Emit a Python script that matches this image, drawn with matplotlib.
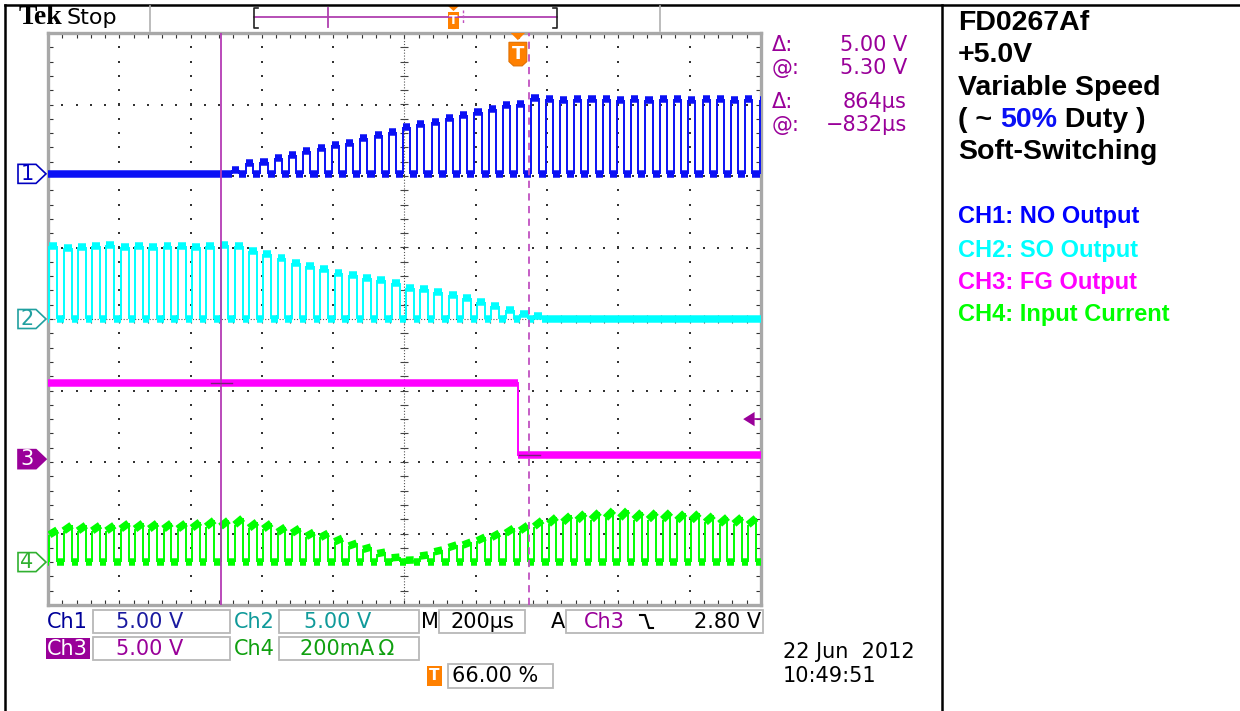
import numpy as np
import matplotlib.pyplot as plt
from matplotlib.patches import Polygon, Rectangle
from matplotlib.collections import LineCollection
from matplotlib.transforms import blended_transform_factory

W, H = 1240, 711

# scope settings (time axis in microseconds, vertical axis in divisions)
us_per_div = 200
volts_per_div = 5.0
ma_per_div = 200.0
period_us = 40
trigger_us = 318
trigger_level_v = 2.80
cursor1_us = -514
cursor2_us = 350
cursor_levels_v = [5.30, 0.30]

ch1_offset = 2.03
ch2_offset = 0.0
ch3_offset = -1.96
ch4_offset = -3.40

ch1_first_rise = -964
ch2_first_rise = -996
ch4_first_rise = -996

# pulse tops, one per switching period
ch1_high_v = [0, 0, 0, 0, 0, 0, 0, 0, 0, 0, 0, 0, 0.3, 0.75, 0.85, 1.1, 1.35, 1.6,
              1.8, 2.0, 2.15, 2.5, 2.75, 2.95, 3.3, 3.5, 3.65, 3.9, 4.15, 4.35,
              4.55, 4.8, 4.9, 5.3, 5.2, 5.15, 5.2, 5.25, 5.2, 5.15, 5.2, 5.15,
              5.25, 5.2, 5.15, 5.2, 5.2, 5.15, 5.2, 5.15]
ch2_high_v = [5.1, 5.0, 5.05, 5.1, 5.15, 5.05, 5.1, 5.05, 5.1, 5.1, 5.05, 5.1, 5.15,
              5.1, 4.75, 4.55, 4.25, 3.9, 3.7, 3.5, 3.2, 3.1, 2.85, 2.75, 2.5,
              2.15, 2.1, 1.9, 1.7, 1.45, 1.2, 0.9, 0.65, 0.35, 0.2, 0, 0, 0, 0, 0,
              0, 0, 0, 0, 0, 0, 0, 0, 0, 0]
ch4_high_ma = [90, 103, 103, 103, 103, 109, 109, 109, 109, 109, 112, 117, 117, 123,
               112, 109, 98, 95, 84, 81, 67, 53, 42, 28, 14, 6, 20, 34, 48, 56, 70,
               81, 95, 103, 117, 126, 131, 137, 140, 145, 145, 140, 140, 140, 137,
               137, 131, 126, 126, 123]
ch3_levels_v = [5.3, 0.3]

readout_cursor = [("\u0394:", "5.00 V"), ("@:", "5.30 V"), ("\u0394:", "864\u00b5s"), ("@:", "\u2212832\u00b5s")]
notes = ["FD0267Af", "+5.0V", "Variable Speed", None, "Soft-Switching"]
legend = [("CH1: NO Output", "#0000ff"), ("CH2: SO Output", "#00ffff"),
          ("CH3: FG Output", "#ff00ff"), ("CH4: Input Current", "#00ff00")]

C1, C2, C3, C4 = "#0a10f5", "#00ffff", "#ff00ff", "#00ff00"
PURPLE = "#990099"
TRACE_LW = 5.4


def fx(x):
    return x / W


def fy(y):
    return 1 - y / H


fig = plt.figure(figsize=(12.4, 7.11), dpi=100)
fig.patch.set_facecolor("white")
ax = fig.add_axes([fx(48), fy(605), 713 / W, 572 / H])
ax.set_xlim(-1000, 1000)
ax.set_ylim(-4, 4)
for s in ax.spines.values():
    s.set_color("#a8a8a8")
    s.set_linewidth(2.4)
ax.set_xticks(np.arange(-1000, 1001, 200))
ax.set_xticks(np.arange(-1000, 1001, 40), minor=True)
ax.set_yticks(np.arange(-4, 5, 1))
ax.set_yticks(np.arange(-4, 4.01, 0.2), minor=True)
ax.tick_params(which="both", direction="in", top=True, right=True, length=3.5,
               width=0.8, color="#333333", labelbottom=False, labelleft=False)

# graticule dots
gx, gy = [], []
for t in range(-800, 801, 200):
    if t == 0:
        continue
    for v in np.arange(-3.8, 3.81, 0.2):
        gx.append(t)
        gy.append(v)
for v in range(-3, 4):
    if v == 0:
        continue
    for t in range(-960, 961, 40):
        gx.append(t)
        gy.append(v)
ax.plot(gx, gy, ls="none", marker="s", ms=1.6, mew=0, color="#333333", zorder=1)
ax.axhline(0, color="#555555", lw=0.8, ls=(0, (1, 1.6)), zorder=1)
ax.axvline(0, color="#555555", lw=0.8, ls=(0, (1, 1.6)), zorder=1)
tt = np.arange(-960, 961, 40)
ax.plot(tt, np.zeros_like(tt), ls="none", marker="|", ms=6, mew=0.8, color="#444444", zorder=1)
vv = np.arange(-3.8, 3.81, 0.2)
ax.plot(np.zeros_like(vv), vv, ls="none", marker="_", ms=6, mew=0.8, color="#444444", zorder=1)


def draw_train(first_rise, highs, scale, offset, duty, color, ramp=1.0):
    thick, thin = [], []
    last = -1000
    for i, h in enumerate(highs):
        r = first_rise + i * period_us
        f = r + duty * period_us
        top_end = offset + h / scale
        top_start = offset + ramp * h / scale
        thick.append([(last, offset), (r, offset)])
        if h > 0:
            thick.append([(r, top_start), (f, top_end)])
            thin.append([(r, offset), (r, top_start)])
            thin.append([(f, top_end), (f, offset)])
        else:
            thick.append([(r, offset), (f, offset)])
        last = f
    thick.append([(last, offset), (1000, offset)])
    ax.add_collection(LineCollection(thin, colors=color, linewidths=1.4, zorder=3))
    lc = LineCollection(thick, colors=color, linewidths=TRACE_LW, zorder=3)
    lc.set_capstyle("butt")
    ax.add_collection(lc)


draw_train(ch1_first_rise, ch1_high_v, volts_per_div, ch1_offset, 0.5, C1)
draw_train(ch2_first_rise, ch2_high_v, volts_per_div, ch2_offset, 0.55, C2)
draw_train(ch4_first_rise, ch4_high_ma, ma_per_div, ch4_offset, 0.55, C4, ramp=0.85)

# ch3 (FG) single falling edge at trigger
hi3 = ch3_offset + ch3_levels_v[0] / volts_per_div
lo3 = ch3_offset + ch3_levels_v[1] / volts_per_div
lc3 = LineCollection([[(-1000, hi3), (trigger_us, hi3)], [(trigger_us, lo3), (1000, lo3)]],
                     colors=C3, linewidths=TRACE_LW, zorder=3)
lc3.set_capstyle("butt")
ax.add_collection(lc3)
ax.plot([trigger_us, trigger_us], [hi3, lo3], color=C3, lw=1.4, zorder=3)

# cursors
ax.axvline(cursor1_us, color="#b43cb4", lw=1.3, zorder=4)
ax.axvline(cursor2_us, color="#c050c0", lw=1.3, ls=(0, (4, 3)), zorder=4)
for cx, cv in zip([cursor1_us, cursor2_us], cursor_levels_v):
    yv = ch3_offset + cv / volts_per_div
    ax.plot([cx - 30, cx + 30], [yv, yv], color="#772277", lw=1.0, zorder=5)

# trigger position marker
tx = trigger_us
ax.add_patch(Polygon([(tx - 20, 4.0), (tx + 20, 4.0), (tx, 3.9)], closed=True,
                     fc="#ff8000", ec="none", clip_on=False, zorder=6))
ax.add_patch(Polygon([(tx - 25, 3.87), (tx + 25, 3.87), (tx + 25, 3.6), (tx + 12, 3.54),
                      (tx - 12, 3.54), (tx - 25, 3.6)], closed=True,
                     fc="#ff8000", ec="#e07000", lw=0.8, clip_on=False, zorder=6))
ax.text(tx, 3.71, "T", color="white", fontsize=13, fontweight="bold",
        ha="center", va="center", zorder=7)

# trigger level arrow (ch3)
ylev = ch3_offset + trigger_level_v / volts_per_div
ax.add_patch(Polygon([(950, ylev), (982, ylev + 0.1), (982, ylev - 0.1)], closed=True,
                     fc=PURPLE, ec="none", clip_on=False, zorder=6))
ax.plot([982, 1000], [ylev, ylev], color=PURPLE, lw=1.2, zorder=6)

# channel markers at left
tr = blended_transform_factory(fig.transFigure, ax.transData)
hm = 9.5 / 71.5
for off, lab, ec, fc, tc in [(ch1_offset, "1", "#0000c0", "white", "#0000c0"),
                             (ch2_offset, "2", "#20a0a0", "white", "#20a0a0"),
                             (ch3_offset, "3", PURPLE, PURPLE, "white"),
                             (ch4_offset, "4", "#30b030", "white", "#30b030")]:
    x0, xt, x1 = fx(18), fx(36), fx(46)
    p = Polygon([(x0, off - hm), (xt, off - hm), (x1, off), (xt, off + hm), (x0, off + hm)],
                closed=True, transform=tr, fc=fc, ec=ec, lw=1.2)
    fig.add_artist(p)
    fig.text(fx(27), off, lab, transform=tr, color=tc, fontsize=15,
             ha="center", va="center")

# frame lines
fig.add_artist(plt.Line2D([fx(5), 1], [fy(5), fy(5)], color="black", lw=1.8))
fig.add_artist(plt.Line2D([fx(5), fx(5)], [fy(5), 0], color="black", lw=1.8))
fig.add_artist(plt.Line2D([fx(942), fx(942)], [fy(5), 0], color="black", lw=1.8))

# top bar
fig.text(fx(19), fy(18), "Tek", family="Liberation Serif", fontweight="bold",
         fontsize=20, va="center", ha="left")
fig.text(fx(67), fy(18), "Stop", fontsize=16, va="center", ha="left")
for xv in [150, 660]:
    fig.add_artist(plt.Line2D([fx(xv), fx(xv)], [fy(6), fy(31)], color="#b0b0b0", lw=1.2))
fig.add_artist(plt.Line2D([fx(254), fx(557)], [fy(17), fy(17)], color="#b040b0", lw=1.3))
fig.add_artist(plt.Line2D([fx(328), fx(328)], [fy(8), fy(27)], color="#b040b0", lw=1.3))
fig.add_artist(plt.Line2D([fx(463), fx(463)], [fy(10), fy(24)], color="#c050c0", lw=1, ls=(0, (2, 1.5))))
for xb, d in [(254, 1), (557, -1)]:
    fig.add_artist(plt.Line2D([fx(xb + 4 * d), fx(xb), fx(xb), fx(xb + 4 * d)],
                              [fy(8), fy(8), fy(28), fy(28)], color="#222222", lw=1.2))
fig.add_artist(Polygon([(fx(448), fy(6)), (fx(459), fy(6)), (fx(453.5), fy(11))],
                       closed=True, fc="#ff8000", ec="none"))
fig.add_artist(Rectangle((fx(448), fy(29)), fx(11), 17 / H, fc="#ff8000", ec="none"))
fig.text(fx(453.5), fy(20), "T", color="white", fontsize=9, fontweight="bold",
         ha="center", va="center")

# cursor readouts
for (lab, val), yy in zip(readout_cursor, [45, 68, 102, 125]):
    fig.text(fx(772), fy(yy), lab, color=PURPLE, fontsize=15, va="center", ha="left")
    fig.text(fx(907), fy(yy), val, color=PURPLE, fontsize=15, va="center", ha="right")


# bottom readout boxes
def box(x0, y0, x1, y1):
    fig.add_artist(Rectangle((fx(x0), fy(y1)), (x1 - x0) / W, (y1 - y0) / H,
                             fc="none", ec="#b8b8b8", lw=1.3))


box(93, 610, 230, 633)
box(279, 610, 419, 633)
box(439, 610, 525, 633)
box(566, 610, 763, 633)
box(93, 637, 230, 660)
box(279, 637, 419, 660)
box(448, 664, 553, 688)
fig.add_artist(Rectangle((fx(46), fy(659)), 44 / W, 21 / H, fc=PURPLE, ec="none"))

fs = 15
row1, row2, row3 = 622, 649, 676
fig.text(fx(47), fy(row1), "Ch1", color="#000099", fontsize=fs, va="center")
fig.text(fx(116), fy(row1), "5.00 V", color="#1a1aa0", fontsize=fs, va="center")
fig.text(fx(234), fy(row1), "Ch2", color="#109a9a", fontsize=fs, va="center")
fig.text(fx(304), fy(row1), "5.00 V", color="#109a9a", fontsize=fs, va="center")
fig.text(fx(421), fy(row1), "M", color="black", fontsize=fs, va="center")
fig.text(fx(450), fy(row1), "200\u00b5s", color="black", fontsize=fs, va="center")
fig.text(fx(551), fy(row1), "A", color="black", fontsize=fs, va="center")
fig.text(fx(584), fy(row1), "Ch3", color=PURPLE, fontsize=fs, va="center")
fig.add_artist(plt.Line2D([fx(640), fx(645), fx(649), fx(653)],
                          [fy(615), fy(615), fy(628), fy(628)], color="black", lw=1.5))
fig.text(fx(761), fy(row1), "2.80 V", color="black", fontsize=fs, va="center", ha="right")
fig.text(fx(47), fy(row2), "Ch3", color="white", fontsize=fs, va="center")
fig.text(fx(116), fy(row2), "5.00 V", color=PURPLE, fontsize=fs, va="center")
fig.text(fx(234), fy(row2), "Ch4", color="#10a010", fontsize=fs, va="center")
fig.text(fx(300), fy(row2), "200mA\u2009\u03a9", color="#10a010", fontsize=fs, va="center")
fig.add_artist(Rectangle((fx(427), fy(686)), 15 / W, 20 / H, fc="#ff8000", ec="none"))
fig.text(fx(434.5), fy(676), "T", color="white", fontsize=11, fontweight="bold",
         ha="center", va="center")
fig.text(fx(452), fy(row3), "66.00 %", color="black", fontsize=fs, va="center")
fig.text(fx(783), fy(652), "22 Jun  2012", color="black", fontsize=fs, va="center")
fig.text(fx(783), fy(676), "10:49:51", color="black", fontsize=fs, va="center")

# notes panel on the right
bold = dict(family="Liberation Sans", fontweight="bold", fontsize=20.5, va="center")
for txt, yy in zip(notes, [23, 55, 88, 120, 152]):
    if txt is not None:
        fig.text(fx(958), fy(yy), txt, color="black", **bold)
r = fig.canvas.get_renderer()
xcur = fx(958)
for piece, col in [("( ~ ", "black"), ("50%", "#0a10f5"), (" Duty )", "black")]:
    t = fig.text(xcur, fy(120), piece, color=col, **bold)
    bb = t.get_window_extent(renderer=r)
    xcur = bb.x1 / fig.bbox.width
small = dict(family="Liberation Sans", fontweight="bold", fontsize=17, va="center")
for (txt, col), yy in zip(legend, [217, 250, 282, 314]):
    fig.text(fx(958), fy(yy), txt, color=col, **small)

fig.savefig("out.png", dpi=100)
